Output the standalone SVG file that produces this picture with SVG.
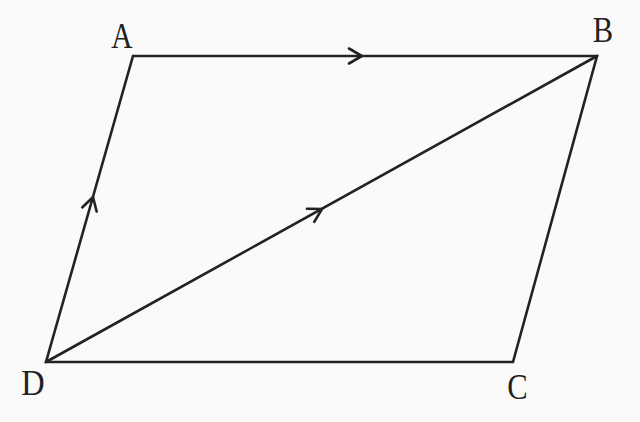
<svg xmlns="http://www.w3.org/2000/svg" xmlns:xlink="http://www.w3.org/1999/xlink" width="640" height="422" viewBox="0 0 640 422">
<style>
.edge{stroke:#222;stroke-width:2.6;fill:none;stroke-linejoin:miter;stroke-linecap:round}
.chev{stroke:#222;stroke-width:2.6;fill:none;stroke-linecap:round;stroke-linejoin:miter}
.lbl{font-family:"Liberation Serif","DejaVu Serif",serif;font-size:36px;fill:#222;text-anchor:middle}
</style>
<defs>
<path id="chev" class="chev" d="M-13,-7.5 L0,0 L-13,7.5"/>
</defs>
<rect width="640" height="422" fill="#fafafa"/>
<g id="connectors">
<path class="edge" d="M133,56 L597,56 L513,362 L46,362 Z"/>
<path class="edge" d="M46,362 L597,56"/>
<use xlink:href="#chev" transform="translate(362,56)"/>
<use xlink:href="#chev" transform="translate(93,197) rotate(-74.1)"/>
<use xlink:href="#chev" transform="translate(322,209) rotate(-29.05)"/>
</g>
<g id="A"><text class="lbl" transform="translate(122,47.5) scale(0.82,1)">A</text></g>
<g id="B"><text class="lbl" transform="translate(603,41.5) scale(0.85,1)">B</text></g>
<g id="C"><text class="lbl" transform="translate(517.5,399) scale(0.85,1)">C</text></g>
<g id="D"><text class="lbl" transform="translate(33,395) scale(0.9,1)">D</text></g>
</svg>
